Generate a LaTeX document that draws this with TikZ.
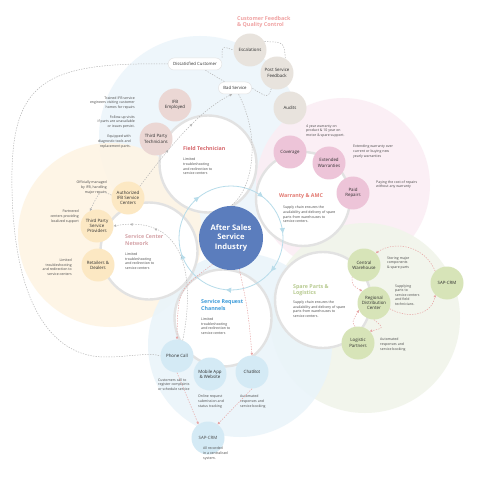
\documentclass[tikz,border=0pt]{standalone}
\usepackage{fontspec}
\setmainfont{Open Sans}
\usetikzlibrary{arrows.meta, decorations.markings}

\definecolor{corefill}{HTML}{5B7DBD}
\definecolor{ringline}{HTML}{B7DCEA}
\definecolor{hubline}{HTML}{E2E2E2}
\definecolor{labeltext}{HTML}{2E2E2E}
\definecolor{notetext}{HTML}{4A4A4A}
\definecolor{linkgray}{HTML}{B4B4B4}
\definecolor{linkred}{HTML}{E7A3A3}
\definecolor{tagline}{HTML}{E4E4E4}
\definecolor{bgblue}{HTML}{EEF6FB}
\definecolor{bgorange}{HTML}{FEF4E4}
\definecolor{bgpink}{HTML}{FBEEF4}
\definecolor{bggreen}{HTML}{F1F5EA}
\definecolor{bgsky}{HTML}{EAF4FA}
\definecolor{fieldfill}{HTML}{EBD7D4}
\definecolor{warrantyfill}{HTML}{EDC4D8}
\definecolor{sparefill}{HTML}{D7E4B8}
\definecolor{requestfill}{HTML}{D4EAF5}
\definecolor{networkfill}{HTML}{FCE8C3}
\definecolor{feedbackfill}{HTML}{E8E3DD}
\definecolor{fieldtitle}{HTML}{D6666B}
\definecolor{warrantytitle}{HTML}{E2776F}
\definecolor{sparetitle}{HTML}{B7CA8F}
\definecolor{requesttitle}{HTML}{3A9AD9}
\definecolor{networktitle}{HTML}{D4A2A7}
\definecolor{feedbacktitle}{HTML}{F0A2A2}

\begin{document}
\begin{tikzpicture}[x = 1pt, y = -1pt,
	hub/.style = {draw = hubline, line width = 2.4pt, fill = white,
				  shape = circle, minimum size = 97pt, inner sep = 0pt},
	item/.style = {shape = circle, minimum size = 33pt, inner sep = 0pt,
				   align = center, text = labeltext,
				   font = \fontsize{4.4}{5.3}\selectfont},
	note/.style = {inner sep = 0pt, text = notetext,
				   font = \fontsize{3.5}{4.6}\selectfont},
	heading/.style = {inner sep = 0pt, anchor = west, align = left,
					  font = \fontsize{5.3}{6.1}\selectfont\bfseries},
	tag/.style = {draw = tagline, line width = 0.5pt, fill = white,
				  rounded corners = 6pt, minimum height = 12pt, inner xsep = 5pt,
				  text = labeltext, font = \fontsize{4.3}{4.3}\selectfont},
	link/.style = {draw = linkgray, line width = 0.5pt,
				   dash pattern = on 1.3pt off 1.3pt},
	redlink/.style = {draw = linkred, line width = 0.5pt,
					  dash pattern = on 1.3pt off 1.3pt},
	arrowend/.style = {-{Triangle[length = 2.4pt, width = 2.4pt]}},
	midtip/.style = {postaction = {decorate, decoration = {markings,
					 mark = at position #1 with {\arrow{Triangle[length = 2.4pt, width = 2.4pt]}}}}},
	ringtip/.style = {postaction = {decorate, decoration = {markings,
					  mark = at position #1 with {\arrow{Triangle[length = 5pt, width = 5pt]}}}}},
]

	\useasboundingbox[fill = white] (0,0) rectangle (479,486);

	\fill[bgblue] (200,137) circle (101);
	\fill[bgorange, opacity = 0.9] (110,235) circle (92);
	\fill[bgpink, opacity = 0.9] (343,185) circle (87);
	\fill[bggreen, opacity = 0.9] (365,318) circle (95);
	\fill[bgsky, opacity = 0.9] (240,345) circle (92);

	\node[hub] (field) at (208,164) {};
	\node[hub, minimum size = 94pt] (warranty) at (303,199) {};
	\node[hub, minimum size = 96pt] (spare) at (323,300) {};
	\node[hub] (request) at (223,318) {};
	\node[hub] (network) at (149,251) {};

	\coordinate (middle) at (231,238);
	\draw[draw = ringline, line width = 0.8pt, ringtip = 0.11, ringtip = 0.265,
		  ringtip = 0.45, ringtip = 0.645, ringtip = 0.855, ringtip = 0.985]
		(middle) circle (52);
	\node[shape = circle, fill = corefill, minimum size = 64pt, inner sep = 0pt,
		  text = white, align = center,
		  font = \fontsize{7.6}{9.7}\selectfont\bfseries] (core) at (middle)
		  {After Sales\\Service\\Industry};

	% customer feedback
	\node[heading, text = feedbacktitle, font = \fontsize{5.4}{6.3}\selectfont\bfseries]
		(feedbackhead) at (237,22) {Customer Feedback\\\& Quality Control};
	\node[item, fill = feedbackfill] (escalations) at (250,50) {Escalations};
	\node[item, fill = feedbackfill] (postservice) at (277,73) {Post Service\\Feedback};
	\node[item, fill = feedbackfill] (audits) at (290,108) {Audits};
	\node[tag] (dissatisfied) at (195,64) {Dissatisfied Customer};
	\node[tag] (badservice) at (235,88) {Bad Service};

	% field technician
	\node[item, fill = fieldfill] (ifbemployed) at (175,105) {IFB\\Employed};
	\node[item, fill = fieldfill] (thirdtech) at (156,139) {Third Party\\Technicians};
	\node[note, anchor = east, align = right] (ifbnote) at (135,103)
		{Trained IFB service\\engineers visiting customer\\homes for repairs};
	\node[note, anchor = east, align = right] (followupnote) at (135,122)
		{Follow-up visits\\if parts are unavailable\\or issues persist.};
	\node[note, anchor = east, align = right] (equipnote) at (131,141.5)
		{Equipped with\\diagnostic tools and\\replacement parts.};
	\node[heading, text = fieldtitle] (fieldhead) at (183,149) {Field Technician};
	\node[note, anchor = west, align = left] (fieldnote) at (183,166.5)
		{Limited\\troubleshooting\\and redirection to\\service centers};

	% warranty
	\node[item, fill = warrantyfill] (coverage) at (290,152) {Coverage};
	\node[item, fill = warrantyfill] (extended) at (329,163) {Extended\\Warranties};
	\node[item, fill = warrantyfill] (paid) at (353,193) {Paid\\Repairs};
	\node[note, anchor = west, align = left] (coveragenote) at (306,131)
		{4 year warranty on\\product \& 10 year on\\motor \& spare support.};
	\node[note, anchor = west, align = left] (extendednote) at (353,151.5)
		{Extending warranty over\\current or buying new\\yearly warranties};
	\node[note, anchor = west, align = left] (paidnote) at (376,184.5)
		{Paying the cost of repairs\\without any warranty};
	\node[heading, text = warrantytitle] (warrantyhead) at (279,196) {Warranty \& AMC};
	\node[note, anchor = west, align = left] (warrantynote) at (283,214.5)
		{Supply chain ensures the\\availability and delivery of spare\\parts from warehouses to\\service centers.};

	% spare parts
	\node[item, fill = sparefill] (warehouse) at (364,265) {Central\\Warehouse};
	\node[item, fill = sparefill] (regional) at (374,303) {Regional\\Distribution\\Center};
	\node[item, fill = sparefill] (logistic) at (358,343) {Logistic\\Partners};
	\node[item, fill = sparefill] (saperight) at (447,283) {SAP-CRM};
	\node[note, anchor = west, align = left] (warehousenote) at (387,263)
		{Storing major\\components\\\& spare parts};
	\node[note, anchor = west, align = left] (regionalnote) at (395,295)
		{Supplying\\parts to\\service centers\\and field\\technicians.};
	\node[note, anchor = west, align = left] (logisticnote) at (380,344.5)
		{Automated\\responses and\\service booking};
	\node[heading, text = sparetitle] (sparehead) at (293,290) {Spare Parts \&\\Logistics};
	\node[note, anchor = west, align = left] (sparenote) at (293,309)
		{Supply chain ensures the\\availability and delivery of spare\\parts from warehouses to\\service centers.};

	% service request
	\node[heading, text = requesttitle] (requesthead) at (201,305) {Service Request\\Channels};
	\node[note, anchor = west, align = left] (requestnote) at (201,326)
		{Limited\\troubleshooting\\and redirection to\\service centers};
	\node[item, fill = requestfill] (phone) at (177,356) {Phone Call};
	\node[item, fill = requestfill] (mobile) at (210,374) {Mobile App\\\& Website};
	\node[item, fill = requestfill] (chatbot) at (252,372) {ChatBot};
	\node[item, fill = requestfill, text = notetext] (sapbottom) at (208,438) {SAP-CRM};
	\node[note, anchor = west, align = left] (phonenote) at (158,384.5)
		{Customers call to\\register complaints\\or schedule service};
	\node[note, anchor = west, align = left] (mobilenote) at (198,401.5)
		{Online request\\submission and\\status tracking};
	\node[note, anchor = west, align = left] (chatbotnote) at (240,401.5)
		{Automated\\responses and\\service booking};
	\node[note, anchor = west, align = left] (sapnote) at (203,453.5)
		{All recorded\\in a centralised\\system.};

	% service center network
	\node[item, fill = networkfill] (authorized) at (128,198) {Authorized\\IFB Service\\Centers};
	\node[item, fill = networkfill] (thirdprovider) at (97,226) {Third Party\\Service\\Providers};
	\node[item, fill = networkfill] (retailers) at (98,265) {Retailers \&\\Dealers};
	\node[note, anchor = east, align = right] (authorizednote) at (107,187.5)
		{Officially managed\\by IFB, handling\\major repairs};
	\node[note, anchor = east, align = right] (providernote) at (79,216.5)
		{Partnered\\centers providing\\localized support};
	\node[note, anchor = east, align = right] (retailernote) at (72,267)
		{Limited\\troubleshooting\\and redirection to\\service centers};
	\node[heading, text = networktitle] (networkhead) at (125,240) {Service Center\\Network};
	\node[note, anchor = west, align = left] (networknote) at (125,261)
		{Limited\\troubleshooting\\and redirection to\\service centers};

	% gray links
	\draw[link] (dissatisfied.west) .. controls (50,62) and (14,80) .. (12,170)
		.. controls (10,300) and (50,357) .. (105,357)
		.. controls (130,357) and (150,352) .. (phone.west);
	\draw[link] (dissatisfied) -- (badservice);
	\draw[link] (dissatisfied.north east) .. controls (222,46) .. (escalations.west);
	\draw[link] (escalations.30) .. controls (284,42) .. (postservice.60);
	\draw[link] (postservice.-110) .. controls (268,98) .. (badservice.east);
	\draw[link] (badservice.-60) .. controls (262,140) and (252,190) .. (core.north);
	\draw[link, arrowend, midtip = 0.35, midtip = 0.62]
		(authorized.north east) .. controls (160,160) and (195,112) .. (badservice.-115);
	\draw[link, arrowend] (authorized.170) .. controls (100,190) .. (thirdprovider.115);
	\draw[link, arrowend, midtip = 0.75, midtip = 0.9]
		(phone.70) .. controls (194,285) and (190,213) .. (thirdprovider.east);

	% red links
	\draw[redlink, arrowend] (core.235) .. controls (178,290) .. (phone.north);
	\draw[redlink, arrowend] (core.285) .. controls (248,310) .. (chatbot.north);
	\draw[redlink, arrowend] (phone.south) -- (sapbottom.125);
	\draw[redlink, arrowend] (chatbot.south) -- (sapbottom.55);
	\draw[redlink, arrowend] (saperight.north west) .. controls (425,246) and (395,240) .. (warehouse.north east);
	\draw[redlink, arrowend] (regional.-20) .. controls (410,320) and (432,314) .. (saperight.south west);
	\draw[redlink, arrowend] (warehouse.south west) .. controls (352,285) .. (regional.north west);
	\draw[redlink, arrowend] (logistic.100) .. controls (352,322) .. (regional.205);
	\draw[redlink, arrowend] (regional.south) .. controls (384,328) .. (logistic.north east);

\end{tikzpicture}
\end{document}
